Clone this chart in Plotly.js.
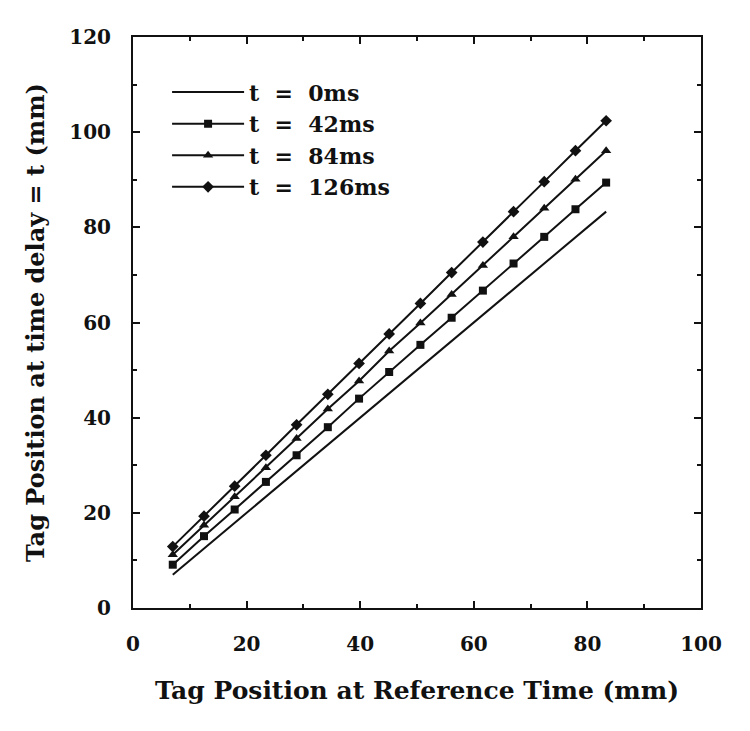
<!DOCTYPE html>
<html>
<head>
<meta charset="utf-8">
<script src="https://cdn.plot.ly/plotly-3.0.1.min.js"></script>
<style>
  body { margin: 0; background: #fff; }
  #plot { width: 750px; height: 731px; }
</style>
</head>
<body>
<div id="plot"></div>
<script>

// tag positions at the reference time (mm)
var refPos = [7.0, 12.5, 17.9, 23.4, 28.8, 34.3, 39.8, 45.1, 50.6, 56.1, 61.6, 67.0, 72.4, 77.9, 83.3];

// tag positions after each time delay (mm)
var pos0   = [7.0, 12.5, 17.9, 23.4, 28.8, 34.3, 39.8, 45.1, 50.6, 56.1, 61.6, 67.0, 72.4, 77.9, 83.3];
var pos42  = [9.1, 15.1, 20.7, 26.5, 32.1, 38.0, 44.0, 49.6, 55.3, 61.0, 66.7, 72.4, 78.0, 83.8, 89.4];
var pos84  = [11.2, 17.4, 23.4, 29.5, 35.6, 41.8, 47.7, 54.0, 59.9, 65.9, 72.0, 78.0, 84.0, 90.1, 96.1];
var pos126 = [12.9, 19.3, 25.6, 32.1, 38.5, 44.9, 51.4, 57.6, 64.0, 70.5, 76.9, 83.3, 89.6, 96.1, 102.4];

var sp = "\u00a0\u00a0";
var seriesNames = ["t" + sp + "=" + sp + "0ms", "t" + sp + "=" + sp + "42ms",
                   "t" + sp + "=" + sp + "84ms", "t" + sp + "=" + sp + "126ms"];

var fontFam = "DejaVu Serif, serif";

var traces = [
    {x: refPos, y: pos0, type: "scatter", mode: "lines", name: seriesNames[0],
     line: {color: "#111", width: 2}},
    {x: refPos, y: pos42, type: "scatter", mode: "lines+markers", name: seriesNames[1],
     line: {color: "#111", width: 2},
     marker: {symbol: "square", size: 8, color: "#111"}},
    {x: refPos, y: pos84, type: "scatter", mode: "lines+markers", name: seriesNames[2],
     line: {color: "#111", width: 2},
     marker: {symbol: "triangle-up", size: 9, color: "#111"}},
    {x: refPos, y: pos126, type: "scatter", mode: "lines+markers", name: seriesNames[3],
     line: {color: "#111", width: 2},
     marker: {symbol: "diamond", size: 9, color: "#111"}}
];

var axisCommon = {
    showgrid: false,
    zeroline: false,
    showline: true,
    linecolor: "#111",
    linewidth: 2,
    mirror: "ticks",
    ticks: "inside",
    ticklen: 7,
    tickwidth: 2,
    tickcolor: "#111",
    dtick: 20,
    minor: {ticks: "inside", ticklen: 4, tickwidth: 2, tickcolor: "#111", dtick: 10},
    tickfont: {family: fontFam, size: 20, color: "#111", weight: "bold"}
};

var layout = {
    width: 750,
    height: 731,
    margin: {l: 133, r: 49, t: 37, b: 123},
    paper_bgcolor: "#fff",
    plot_bgcolor: "#fff",
    showlegend: true,
    legend: {
        x: 0.06, y: 0.94, xanchor: "left", yanchor: "top",
        bgcolor: "rgba(0,0,0,0)",
        itemwidth: 72,
        font: {family: fontFam, size: 22, color: "#111", weight: "bold"}
    },
    xaxis: Object.assign({}, axisCommon, {
        range: [0, 100],
        ticklabelstandoff: 17,
        title: {text: "Tag Position at Reference Time (mm)", standoff: 26,
                font: {family: fontFam, size: 25, color: "#111", weight: "bold"}}
    }),
    yaxis: Object.assign({}, axisCommon, {
        range: [0, 120],
        ticklabelstandoff: 16,
        title: {text: "Tag Position at time delay = t (mm)", standoff: 18,
                font: {family: fontFam, size: 24, color: "#111", weight: "bold"}}
    })
};

Plotly.newPlot("plot", traces, layout, {displayModeBar: false, staticPlot: true});

</script>
</body>
</html>
